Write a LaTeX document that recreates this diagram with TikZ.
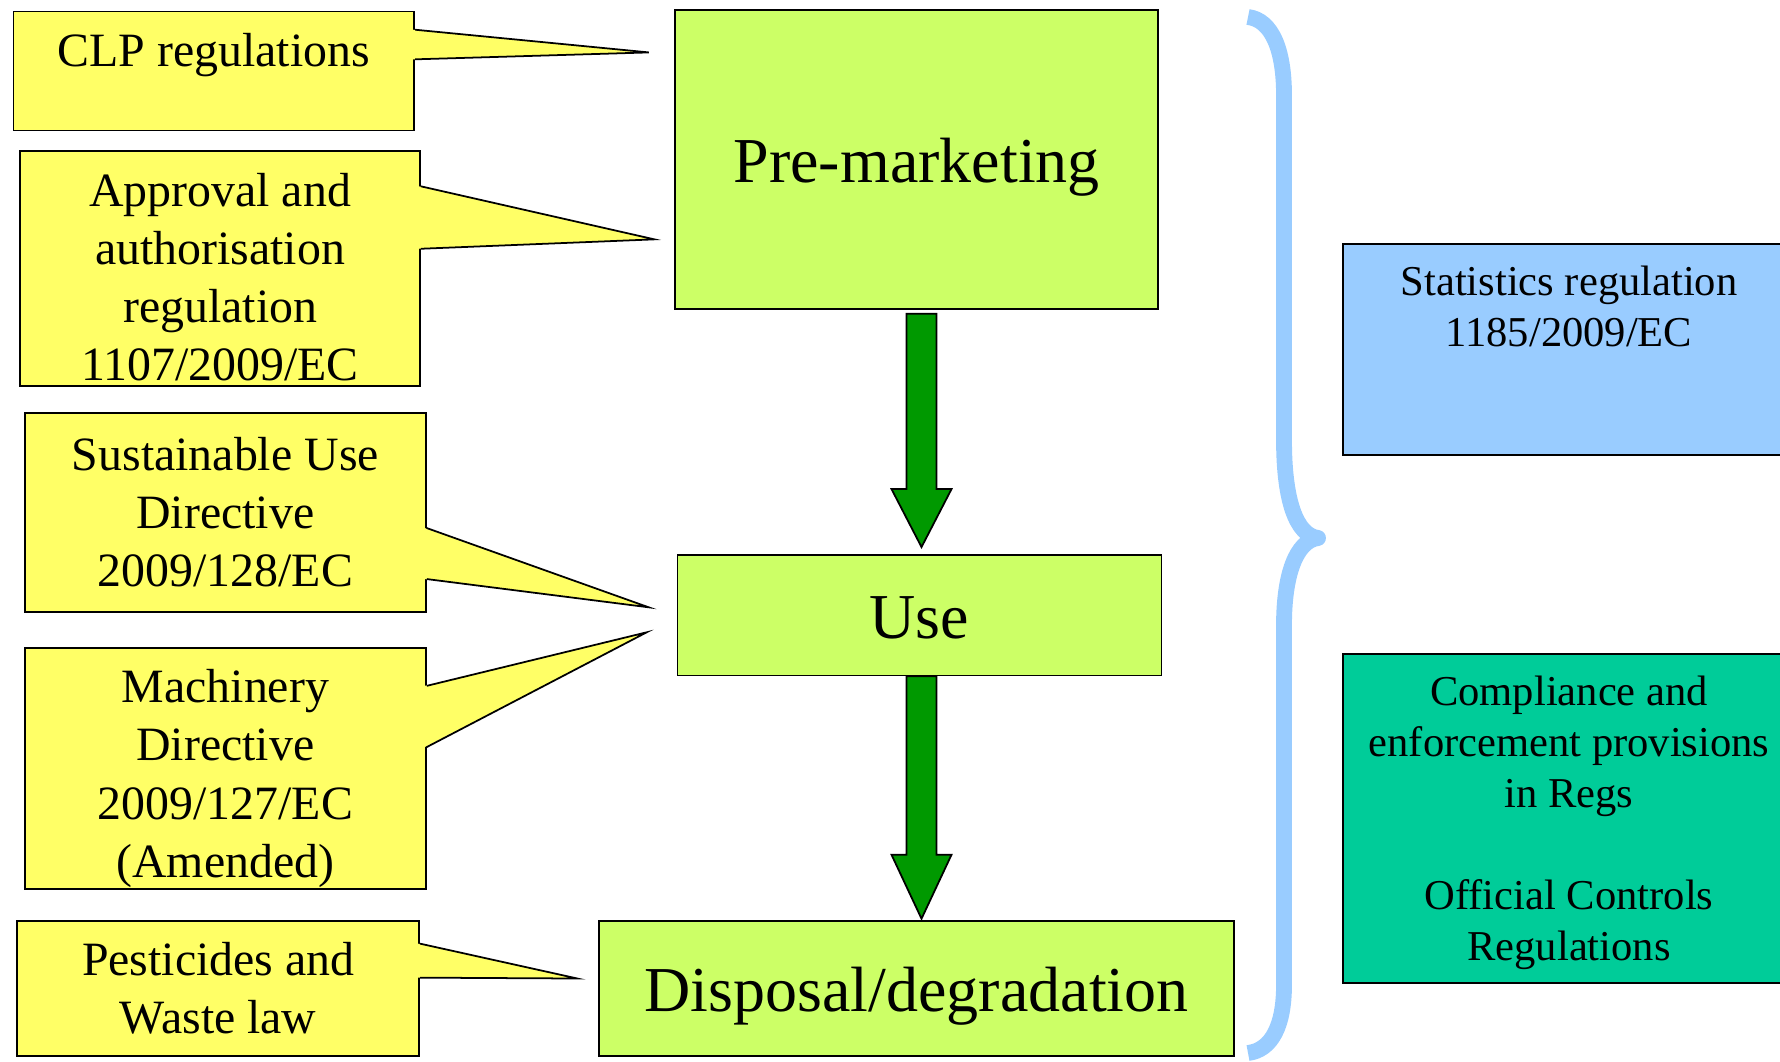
\documentclass[tikz,border=0pt]{standalone}
\usepackage{fontspec}
\setmainfont{Liberation Serif}
\usetikzlibrary{calc,positioning}
\definecolor{callyellow}{HTML}{FFFF66}
\definecolor{stagegreen}{HTML}{CCFF66}
\definecolor{arrowgreen}{HTML}{009900}
\definecolor{bracecol}{HTML}{99CCFF}
\definecolor{compgreen}{HTML}{00CC99}
\tikzset{
  callbox/.style={draw=black,line width=0.5pt,fill=callyellow,align=center,inner sep=0pt,
    font=\fontsize{13.6pt}{16.5pt}\selectfont},
  calltext/.style={align=center,inner sep=0pt,font=\fontsize{13.6pt}{16.5pt}\selectfont},
  tailfill/.style={fill=callyellow},
  tailline/.style={draw=black,line width=0.5pt,line join=miter},
  stagebox/.style={draw=black,line width=0.5pt,fill=stagegreen,inner sep=0pt,
    text height=14.5pt,text depth=1.5pt,font=\fontsize{18.2pt}{22pt}\selectfont},
  rulebox/.style={draw=black,line width=0.5pt,align=center,inner sep=0pt,
    font=\fontsize{12.1pt}{14.5pt}\selectfont},
  ruletext/.style={align=center,inner sep=0pt,font=\fontsize{12.1pt}{14.5pt}\selectfont},
  garrow/.style={draw=black,line width=0.5pt,fill=arrowgreen,line join=miter},
  brace/.style={draw=bracecol,line width=4.5pt,line join=round}
}
\begin{document}
\begin{tikzpicture}[x=0.01cm,y=-0.01cm]
  \useasboundingbox (0,0) rectangle (1780,1061);
  % life-cycle stages
  \node[stagebox,minimum width=4.826cm,minimum height=2.986cm] (pre) at (916.7,159.5) {Pre-marketing};
  \node[stagebox,minimum width=4.836cm,minimum height=1.204cm] (use) at (919.5,615.2) {Use};
  \node[stagebox,minimum width=6.346cm,minimum height=1.351cm] (disp) at (916.7,988.2) {Disposal/degradation};
  % arrows between stages
  \draw[garrow] ($(use.north |- pre.south)+(-13,4)$) -- ($(use.north)+(-13,-65)$) -- ($(use.north)+(-28,-65)$)
    -- ($(use.north)+(2,-7)$) -- ($(use.north)+(32,-65)$) -- ($(use.north)+(17,-65)$)
    -- ($(use.north |- pre.south)+(17,4)$) -- cycle;
  \draw[garrow] ($(use.south)+(-13,0)$) -- ($(use.south |- disp.north)+(-13,-65)$) -- ($(use.south |- disp.north)+(-28,-65)$)
    -- ($(use.south |- disp.north)+(2,-1)$) -- ($(use.south |- disp.north)+(32,-65)$) -- ($(use.south |- disp.north)+(17,-65)$)
    -- ($(use.south)+(17,0)$) -- cycle;
  % regulations on the left
  \node[callbox,minimum width=4.006cm,minimum height=1.191cm] (clp) at (213.8,71) {};
  \node[calltext] (clptxt) at ($(clp.north)+(0,45)$) {CLP regulations};
  \node[callbox,minimum width=3.996cm,minimum height=2.35cm] (appr) at (220.2,268.5) {};
  \node[calltext] (apprtxt) at ($(appr.center)+(0,9)$) {Approval and\\authorisation\\regulation\\1107/2009/EC};
  \node[callbox,minimum width=4.007cm,minimum height=1.99cm] (sud) at (225.4,512.5)
    {Sustainable Use\\Directive\\2009/128/EC};
  \node[callbox,minimum width=4.007cm,minimum height=2.41cm] (mach) at (225.4,768.5) {};
  \node[calltext] (machtxt) at ($(mach.center)+(0,10)$) {Machinery\\Directive\\2009/127/EC\\(Amended)};
  \node[callbox,minimum width=4.016cm,minimum height=1.351cm] (pest) at (218.2,988.2)
    {Pesticides and\\Waste law};
  % callout tails
  \coordinate (tclp) at ($(pre.north west)+(-25.5,43.2)$);
  \coordinate (tappr) at ($(pre.south west)+(-20,-70.4)$);
  \coordinate (tsud) at ($(use.west)+(-28,-7.9)$);
  \coordinate (tmach) at ($(use.west)+(-30,17.1)$);
  \coordinate (tpest) at ($(disp.west)+(-21,-9.7)$);
  \fill[tailfill] ($(clp.north east)+(-2,19.2)$) -- (tclp) -- ($(clp.north east)+(-2,48.8)$) -- cycle;
  \draw[tailline] ($(clp.north east)+(0,19.2)$) -- (tclp) -- ($(clp.north east)+(0,48.8)$);
  \fill[tailfill] ($(appr.north east)+(-2,36.3)$) -- (tappr) -- ($(appr.north east)+(-2,98.7)$) -- cycle;
  \draw[tailline] ($(appr.north east)+(0,36.3)$) -- (tappr) -- ($(appr.north east)+(0,98.7)$);
  \fill[tailfill] ($(sud.north east)+(-2,116)$) -- (tsud) -- ($(sud.north east)+(-2,167)$) -- cycle;
  \draw[tailline] ($(sud.north east)+(0,116)$) -- (tsud) -- ($(sud.north east)+(0,167)$);
  \fill[tailfill] ($(mach.north east)+(-2,38.8)$) -- (tmach) -- ($(mach.north east)+(-2,100)$) -- cycle;
  \draw[tailline] ($(mach.north east)+(0,38.8)$) -- (tmach) -- ($(mach.north east)+(0,100)$);
  \fill[tailfill] ($(pest.north east)+(-2,23.9)$) -- (tpest) -- ($(pest.north east)+(-2,57.9)$) -- cycle;
  \draw[tailline] ($(pest.north east)+(0,23.9)$) -- (tpest) -- ($(pest.north east)+(0,57.9)$);
  % brace
  \draw[brace] (1248,17) .. controls (1272,20) and (1284,50) .. (1284,95) -- (1284,440)
    .. controls (1284,500) and (1296,535) .. (1318,538)
    .. controls (1296,541) and (1284,575) .. (1284,625) -- (1284,985)
    .. controls (1284,1025) and (1272,1050) .. (1248,1053);
  % regulations across the whole cycle
  \node[rulebox,fill=bracecol,minimum width=4.52cm,minimum height=2.11cm] (stat) at (1569,349.5) {};
  \node[ruletext] (stattxt) at ($(stat.north)+(0,63)$) {Statistics regulation\\1185/2009/EC};
  \node[rulebox,fill=compgreen,minimum width=4.52cm,minimum height=3.29cm] (comp) at (1569,818.5) {};
  \node[ruletext] (comptxt) at ($(comp.center)+(0,4)$)
    {Compliance and\\enforcement provisions\\in Regs\\[14.5pt]Official Controls\\Regulations};
\end{tikzpicture}
\end{document}
